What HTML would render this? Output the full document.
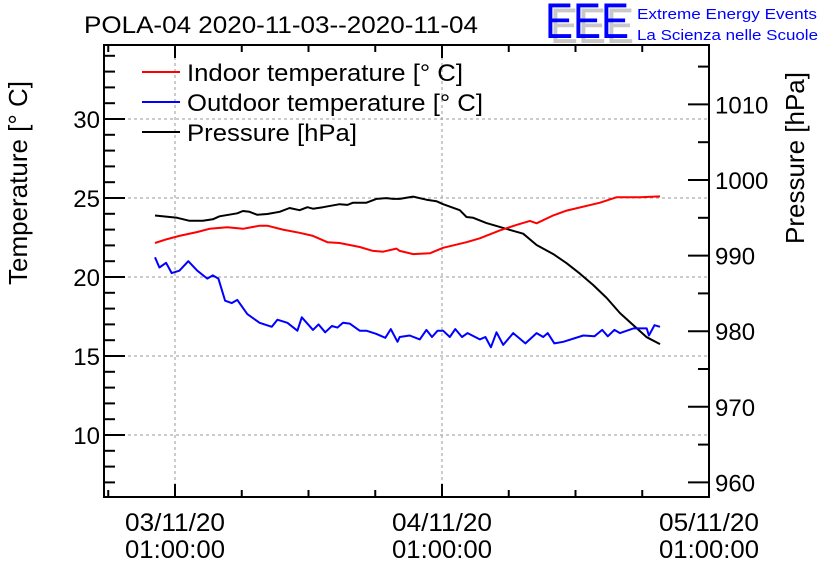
<!DOCTYPE html>
<html><head><meta charset="utf-8"><style>
html,body{margin:0;padding:0;background:#fff;}
svg{display:block;font-family:"Liberation Sans",sans-serif;}
</style></head><body>
<svg id="chart" width="836" height="572" viewBox="0 0 836 572" xmlns="http://www.w3.org/2000/svg">
<rect width="836" height="572" fill="#fff"/>
<text x="84" y="33" font-size="24" textLength="394" lengthAdjust="spacingAndGlyphs">POLA-04 2020-11-03--2020-11-04</text>
<g>
<text x="550" y="43" font-size="50" fill="#c8c8c8" textLength="84" lengthAdjust="spacingAndGlyphs">EEE</text>
<text x="545" y="38" font-size="50" fill="#0000ff" textLength="84" lengthAdjust="spacingAndGlyphs">EEE</text>
<text x="637" y="19" font-size="15" fill="#0000ff" textLength="180" lengthAdjust="spacingAndGlyphs">Extreme Energy Events</text>
<text x="637" y="40" font-size="15" fill="#0000ff" textLength="181" lengthAdjust="spacingAndGlyphs">La Scienza nelle Scuole</text>
</g>
<g id="grid"></g>
<g id="series"></g>
<g id="axes"></g>
<text transform="translate(27,183) rotate(-90)" text-anchor="middle" font-size="26">Temperature [° C]</text>
<text transform="translate(804,158) rotate(-90)" text-anchor="middle" font-size="26">Pressure [hPa]</text>
<g>
<g><line x1="142" y1="72" x2="180" y2="72" stroke="#ff0000" stroke-width="2"/><text x="187" y="81" font-size="24" textLength="276" lengthAdjust="spacingAndGlyphs">Indoor temperature [° C]</text></g>
<g><line x1="142" y1="102" x2="180" y2="102" stroke="#0000ff" stroke-width="2"/><text x="187" y="111" font-size="24" textLength="296" lengthAdjust="spacingAndGlyphs">Outdoor temperature [° C]</text></g>
<g><line x1="142" y1="132" x2="180" y2="132" stroke="#000" stroke-width="2"/><text x="187" y="141" font-size="24" textLength="170" lengthAdjust="spacingAndGlyphs">Pressure [hPa]</text></g>
</g>
</svg>
<script>
// hours since 03/11/20 00:00
const pressureT=[-0.8,1.2,2.3,3.5,4.4,5.0,6.6,7.1,7.7,8.4,9.3,10.4,11.3,12.2,12.9,13.4,14.3,15.8,16.5,17.0,18.2,19.1,20.0,20.6,21.2,22.4,23.6,24.5,25.1,26.6,27.2,27.8,29.0,30.2,31.1,32.3,33.5,35.0,36.2,37.4,38.6,39.8,41.0,42.2,43.4,44.6];
const pressureV=[995.3,995.0,994.6,994.6,994.8,995.2,995.6,995.9,995.8,995.4,995.5,995.8,996.3,996.0,996.4,996.2,996.4,996.8,996.7,997.0,997.0,997.5,997.6,997.5,997.5,997.8,997.4,997.2,996.8,996.0,995.1,995.0,994.3,993.8,993.4,992.9,991.4,990.2,989.0,987.6,986.1,984.4,982.4,980.8,979.2,978.3];
const indoorT=[-0.8,0.3,1.4,3.0,4.1,5.7,7.1,8.6,9.3,10.7,12.2,13.4,14.7,15.8,17.6,18.8,19.7,20.9,21.2,22.4,23.9,25.1,27.2,28.4,30.2,31.7,32.9,33.5,35.0,36.2,39.2,40.7,42.8,44.6];
const indoorV=[22.15,22.4,22.6,22.85,23.05,23.15,23.05,23.25,23.25,23.0,22.8,22.6,22.2,22.15,21.9,21.65,21.6,21.8,21.65,21.45,21.5,21.85,22.2,22.45,22.95,23.3,23.55,23.4,23.9,24.2,24.7,25.05,25.05,25.1];
const outdoorT=[-0.8,-0.4,0.2,0.7,1.4,2.2,3.0,3.9,4.4,4.9,5.5,6.1,6.6,7.5,8.6,9.7,10.2,11.1,12.0,12.4,13.4,13.9,14.5,15.1,15.6,16.1,16.7,17.6,18.2,19.1,19.9,20.4,21.0,21.2,22.1,23.0,23.6,24.1,24.6,25.1,25.7,26.2,26.8,27.3,28.4,28.9,29.4,29.9,30.5,31.4,32.5,33.5,34.1,34.5,35.1,35.9,37.7,38.7,39.4,39.9,40.5,41.0,42.2,43.4,43.6,44.1,44.6];
const outdoorV=[21.25,20.6,20.9,20.25,20.4,21.0,20.4,19.9,20.1,19.9,18.5,18.35,18.55,17.65,17.1,16.85,17.3,17.1,16.6,17.45,16.65,17.0,16.5,16.9,16.8,17.1,17.05,16.6,16.6,16.4,16.15,16.7,15.9,16.2,16.3,16.05,16.65,16.2,16.6,16.6,16.2,16.7,16.2,16.45,16.05,16.2,15.55,16.5,15.7,16.45,15.8,16.45,16.2,16.45,15.8,15.9,16.3,16.25,16.65,16.25,16.65,16.45,16.75,16.75,16.3,16.95,16.85];
const tempTicks=[10,15,20,25,30];
const pressTicks=[960,970,980,990,1000,1010];
const xTickHours=[1,25,49];
const xTickLabels=[["03/11/20","01:00:00"],["04/11/20","01:00:00"],["05/11/20","01:00:00"]];

const L=104,R=709,T=45,B=497;
const X=h=>175+(h-1)*(267/24);
const YT=v=>198-(v-25)*15.8;
const YP=v=>180-(v-1000)*7.56;
const NS="http://www.w3.org/2000/svg";
function mk(tag,attrs,parent){const e=document.createElementNS(NS,tag);for(const k in attrs)e.setAttribute(k,attrs[k]);parent.appendChild(e);return e;}
const grid=document.getElementById('grid'),axes=document.getElementById('axes'),series=document.getElementById('series');

tempTicks.forEach(v=>{const l=mk('line',{x1:L,x2:R,y1:YT(v),y2:YT(v),stroke:'#999','stroke-dasharray':'3,3'},grid);

});
xTickHours.slice(0,2).forEach(h=>{const l=mk('line',{x1:X(h),x2:X(h),y1:T,y2:B,stroke:'#999','stroke-dasharray':'3,3'},grid);

});

function drawLine(ts,vs,yf,color,name){
 const d=ts.map((t,i)=>(i?'L':'M')+X(t).toFixed(1)+','+yf(vs[i]).toFixed(1)).join('');
 const p=mk('path',{d:d,fill:'none',stroke:color,'stroke-width':2,'stroke-linejoin':'round'},series);
 
 
}
drawLine(pressureT,pressureV,YP,'#000','pressure-line');
drawLine(indoorT,indoorV,YT,'#ff0000','indoor-temperature-line');
drawLine(outdoorT,outdoorV,YT,'#0000ff','outdoor-temperature-line');

const fr=mk('rect',{x:L,y:T,width:R-L,height:B-T,fill:'none',stroke:'#000','stroke-width':2},axes);


for(let v=7;v<=34;v++){const maj=v%5===0;mk('line',{x1:L,x2:L+(maj?21:11),y1:YT(v),y2:YT(v),stroke:'#000','stroke-width':2},axes);}
tempTicks.forEach(v=>{const t=mk('text',{x:100,y:YT(v)+9,'text-anchor':'end','font-size':24},axes);t.textContent=v;

});
for(let v=960;v<=1015;v+=5){const maj=v%10===0;mk('line',{x1:R,x2:R-(maj?21:11),y1:YP(v),y2:YP(v),stroke:'#000','stroke-width':2},axes);}
pressTicks.forEach(v=>{const t=mk('text',{x:715,y:YP(v)+9,'font-size':24},axes);t.textContent=v;

});
for(let h=-5;h<=49;h+=6){const x=X(h);if(x<L||x>R)continue;const maj=(h-1)%24===0;
 mk('line',{x1:x,x2:x,y1:B,y2:B-(maj?13:7),stroke:'#000','stroke-width':2},axes);
 mk('line',{x1:x,x2:x,y1:T,y2:T+(maj?13:7),stroke:'#000','stroke-width':2},axes);}
xTickHours.forEach((h,i)=>{xTickLabels[i].forEach((s,j)=>{const t=mk('text',{x:X(h),y:531+j*27,'text-anchor':'middle','font-size':25,textLength:100,lengthAdjust:'spacingAndGlyphs'},axes);t.textContent=s;

});});
</script>
</body></html>
